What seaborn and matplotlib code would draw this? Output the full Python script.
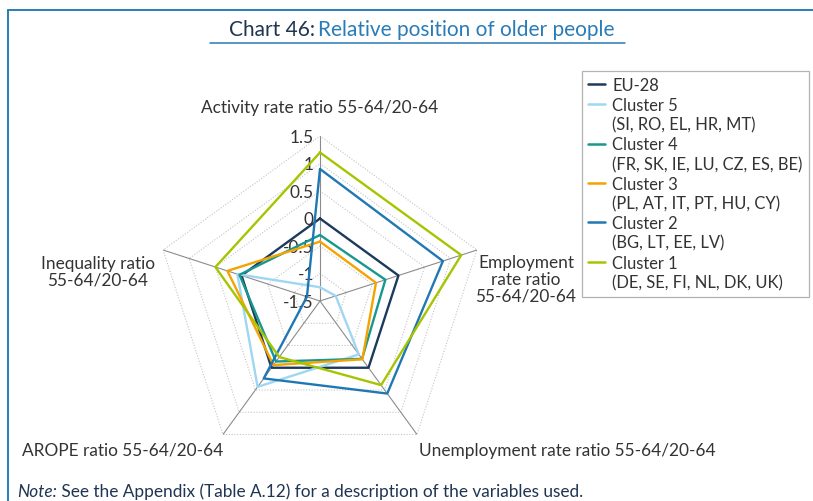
import matplotlib.pyplot as plt
import matplotlib.transforms as mtransforms
import numpy as np
import pandas as pd
import seaborn as sns
from matplotlib.lines import Line2D

# categories (clockwise from the top)
axis_labels = ["Activity rate ratio 55-64/20-64",
               "Employment\nrate ratio\n55-64/20-64",
               "Unemployment rate ratio 55-64/20-64",
               "AROPE ratio 55-64/20-64",
               "Inequality ratio\n55-64/20-64"]
series_names = ["EU-28", "Cluster 5", "Cluster 4", "Cluster 3", "Cluster 2", "Cluster 1"]
series_members = ["", "(SI, RO, EL, HR, MT)", "(FR, SK, IE, LU, CZ, ES, BE)",
                  "(PL, AT, IT, PT, HU, CY)", "(BG, LT, EE, LV)", "(DE, SE, FI, NL, DK, UK)"]

# values: activity, employment, unemployment, AROPE, inequality
eu28 = [0.0, 0.0, 0.0, 0.0, 0.0]
cluster5 = [-1.25, -1.2, -0.3, 0.43, 0.08]
cluster4 = [-0.3, -0.25, -0.2, -0.14, 0.04]
cluster3 = [-0.42, -0.43, -0.19, -0.06, 0.27]
cluster2 = [0.9, 0.85, 0.58, 0.24, -1.25]
cluster1 = [1.2, 1.2, 0.39, -0.24, 0.5]

ring_levels = [-1, -0.5, 0, 0.5, 1, 1.5]
tick_values = [1.5, 1, 0.5, 0, -0.5, -1, -1.5]
tick_labels = ["1.5", "1", "0.5", "0", "-0.5", "-1", "-1.5"]

colors = ["#1c3a5e", "#9fd6f2", "#17988f", "#f5a300", "#1f78b4", "#a6c400"]
text_col = "#333333"
blue = "#2a7cb8"
navy = "#1f3552"

W, H = 813, 502
fs = 12.4
leg_fs = 11.9

sns.set_theme(style="white")
plt.rcParams["font.family"] = ["Lato", "DejaVu Sans"]

fig = plt.figure(figsize=(W / 100, H / 100), dpi=100)
# polar axes centred at (320, 302) px, radius 165 px
ax = fig.add_axes([155 / W, 1 - 467 / H, 330 / W, 330 / H], projection="polar")
ax.set_theta_zero_location("N")
ax.set_theta_direction(-1)
ax.set_ylim(-1.5, 1.5)
ax.grid(False)
ax.spines["polar"].set_visible(False)
ax.set_xticks([])
ax.set_yticks([])
ax.set_facecolor("none")

angles = list(np.linspace(0, 2 * np.pi, len(axis_labels), endpoint=False))
closed = angles + [2 * np.pi]

# pentagon rings and spokes
for lv in ring_levels:
    ax.plot(closed, [lv] * len(closed), color="#c4c4c4", lw=0.8, ls=(0, (1, 1.5)), zorder=1)
for a in angles:
    ax.plot([a, a], [-1.5, 1.5], color="#8c8c8c", lw=0.8, zorder=1)

rows = []
for name, vals in zip(series_names, [eu28, cluster5, cluster4, cluster3, cluster2, cluster1]):
    for t, v in zip(closed, vals + vals[:1]):
        rows.append({"series": name, "theta": t, "value": v})
df = pd.DataFrame(rows)

sns.lineplot(data=df, x="theta", y="value", hue="series", hue_order=series_names,
             palette=colors, sort=False, estimator=None, linewidth=1.7,
             legend=False, ax=ax, zorder=3)
ax.set_xlabel("")
ax.set_ylabel("")

# value labels along the top spoke
off = mtransforms.offset_copy(ax.transData, fig=fig, x=-6, y=-1, units="dots")
for v, lab in zip(tick_values, tick_labels):
    ax.text(0, v, lab, transform=off, ha="right", va="center", fontsize=fs, color=text_col, zorder=2)

# category labels
label_pos = [(320, 108), (526, 280), (567, 451), (123, 451), (98, 272)]
for lab, (x, y) in zip(axis_labels, label_pos):
    fig.text(x / W, 1 - y / H, lab, ha="center", va="center", fontsize=fs,
             color=text_col, linespacing=1.05)

# legend
handles, labels = [], []
for name, members, c in zip(series_names, series_members, colors):
    handles.append(Line2D([], [], color=c, lw=1.8))
    labels.append(name)
    if members:
        handles.append(Line2D([], [], color="none"))
        labels.append(members)
leg = fig.legend(handles, labels, loc="upper left", bbox_to_anchor=(582 / W, 1 - 72 / H),
                 frameon=True, fancybox=False, fontsize=leg_fs, handlelength=1.0,
                 handletextpad=0.45, labelspacing=0.22, borderaxespad=0,
                 borderpad=0.38, labelcolor=text_col)
leg.get_frame().set_edgecolor("#a0a0a0")
leg.get_frame().set_linewidth(0.9)

# title
fig.text(315 / W, 1 - 30 / H, "Chart 46:", ha="right", va="center", fontsize=15, color=navy)
fig.text(318 / W, 1 - 30 / H, "Relative position of older people", ha="left", va="center",
         fontsize=15, color=blue)
fig.add_artist(Line2D([210 / W, 625 / W], [1 - 44 / H, 1 - 44 / H], color=blue, lw=1.1))

# blue frame
fig.add_artist(Line2D([8 / W, 1], [1 - 11 / H, 1 - 11 / H], color=blue, lw=1.4))
fig.add_artist(Line2D([8 / W, 8 / W], [1 - 11 / H, 0], color=blue, lw=1.4))

# note
t1 = fig.text(17 / W, 1 - 500 / H, "Note:", ha="left", va="bottom", fontsize=fs,
              color=navy, style="italic")
fig.add_artist(plt.Annotation(" See the Appendix (Table A.12) for a description of the variables used.",
                              xy=(1, 0), xycoords=t1, ha="left", va="bottom",
                              fontsize=fs, color=navy))

fig.savefig("out.png", dpi=100)
